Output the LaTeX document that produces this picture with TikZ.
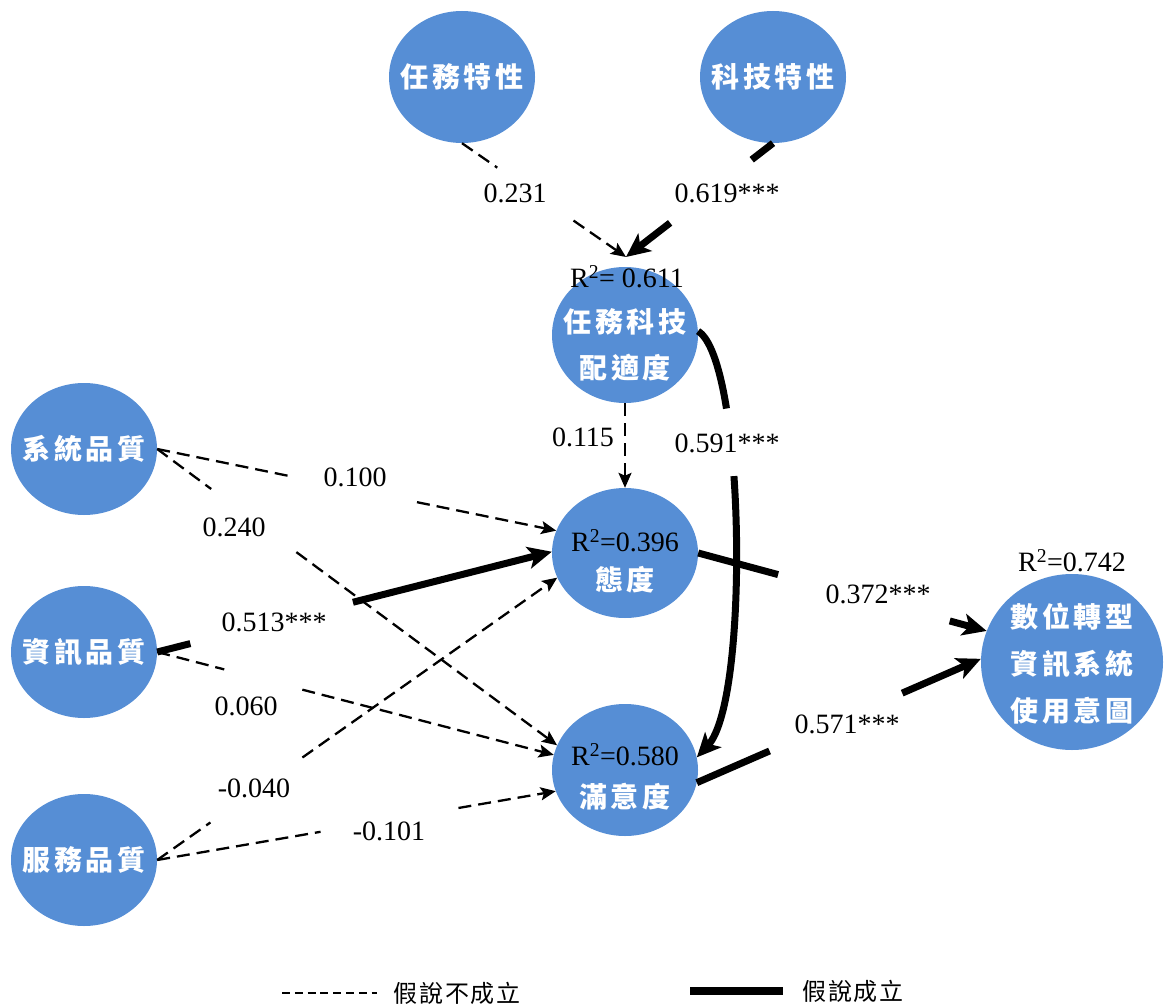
\documentclass[tikz,border=0pt]{standalone}
\usepackage{fontspec}
\setmainfont{Liberation Serif}
\newfontfamily\cjkbold{Noto Sans CJK TC}[LetterSpace=12]
\newfontfamily\cjkplain{Noto Sans CJK TC}[LetterSpace=8]
\usetikzlibrary{shapes.geometric,arrows.meta,calc}
\definecolor{nodeblue}{RGB}{86,142,213}

% connector with a blank stretch between fractions #4 and #5 of its length
\newcommand{\gapline}[5][]{%
  \draw[#1,-] (#2) -- ($(#2)!#4!(#3)$);
  \draw[#1] ($(#2)!#5!(#3)$) -- (#3);}

\begin{document}
\begin{tikzpicture}[x=1pt,y=-1pt,
  latent/.style={ellipse, fill=nodeblue, draw=none, inner sep=0pt,
    minimum width=146pt, minimum height=132pt},
  ntxt/.style={text=white, font=\cjkbold\bfseries\fontsize{28}{46}\selectfont,
    align=center, inner sep=0pt},
  num/.style={font=\fontsize{28}{30}\selectfont, inner sep=1pt},
  legtxt/.style={font=\cjkplain\fontsize{24}{28}\selectfont, inner sep=0pt},
  rejected/.style={line width=2.3pt, dash pattern=on 13pt off 7pt,
    -{Stealth[length=15pt,width=13pt,inset=3pt]}},
  supported/.style={line width=7pt,
    -{Stealth[length=24pt,width=22pt,inset=6pt]}},
]
\useasboundingbox (0,0) rectangle (1169,1008);

% constructs
\node[latent] (A) at (462,77) {};
\node[ntxt] (tA) at (A.center) {任務特性};
\node[latent] (B) at (773,77) {};
\node[ntxt] (tB) at (B.center) {科技特性};
\node[latent, minimum height=136pt] (C) at (625,335) {};
\node[ntxt] (tC) at ([yshift=-10pt]C.center) {任務科技\\配適度};
\node[latent] (D) at (84,449) {};
\node[ntxt] (tD) at (D.center) {系統品質};
\node[latent] (E) at (84,652) {};
\node[ntxt] (tE) at (E.center) {資訊品質};
\node[latent] (F) at (84,860) {};
\node[ntxt] (tF) at (F.center) {服務品質};
\node[latent, minimum height=130pt] (G) at (625,553) {};
\node[ntxt] (tG) at ([yshift=-27pt]G.center) {態度};
\node[latent] (H) at (625,770) {};
\node[ntxt] (tH) at ([yshift=-27pt]H.center) {滿意度};
\node[latent, minimum width=182pt, minimum height=176pt] (I) at (1072,662) {};
\node[ntxt, font=\cjkbold\bfseries\fontsize{28}{47}\selectfont] (tI) at ([yshift=-2pt]I.center) {數位轉型\\資訊系統\\使用意圖};

% explained variance
\node[num] (rC) at (627,277) {R\textsuperscript{2}= 0.611};
\node[num] (rG) at (625,541) {R\textsuperscript{2}=0.396};
\node[num] (rH) at (625,755) {R\textsuperscript{2}=0.580};
\node[num] (rI) at (1072,561) {R\textsuperscript{2}=0.742};

\coordinate (ctop) at (626,257);

% paths
\gapline[rejected]{A.south}{ctop}{0.215}{0.68}
\gapline[supported]{B.south}{ctop}{0.145}{0.70}
\draw[rejected] (C.south) -- (G.north);
\draw[supported, dash pattern=on 84pt off 68pt on 3000pt]
  (C.3) .. controls (745,360) and (750,700) .. (H.10);
\gapline[rejected]{D.east}{G.162}{0.334}{0.651}
\gapline[rejected]{D.east}{H.160}{0.135}{0.348}
\gapline[supported]{E.east}{G.179}{0.084}{0.496}
\gapline[rejected]{E.east}{H.168}{0.169}{0.366}
\gapline[rejected]{F.east}{G.200}{0.133}{0.363}
\gapline[rejected]{F.east}{H.197}{0.41}{0.756}
\gapline[supported]{G.east}{I.160}{0.277}{0.872}
\gapline[supported]{H.-10}{I.178}{0.256}{0.723}

% path coefficients
\node[num] (l1) at (515,193) {0.231};
\node[num] (l2) at (727,193) {0.619***};
\node[num] (l3) at (583,437) {0.115};
\node[num] (l4) at (727,443) {0.591***};
\node[num] (l5) at (355,477) {0.100};
\node[num] (l6) at (234,527) {0.240};
\node[num] (l7) at (274,622) {0.513***};
\node[num] (l8) at (246,706) {0.060};
\node[num] (l9) at (254,788) {-0.040};
\node[num] (l10) at (389,831) {-0.101};
\node[num] (l11) at (878,594) {0.372***};
\node[num] (l12) at (847,724) {0.571***};

% legend
\coordinate (ld1) at (282,993);
\coordinate (ld2) at (377,993);
\draw[line width=1.8pt, dash pattern=on 8pt off 4.8pt] (ld1) -- (ld2);
\node[legtxt] (lt1) at (457,993) {假說不成立};
\coordinate (ls1) at (690,991);
\coordinate (ls2) at (783,991);
\draw[line width=8pt] (ls1) -- (ls2);
\node[legtxt] (lt2) at (853,991) {假說成立};
\end{tikzpicture}
\end{document}
